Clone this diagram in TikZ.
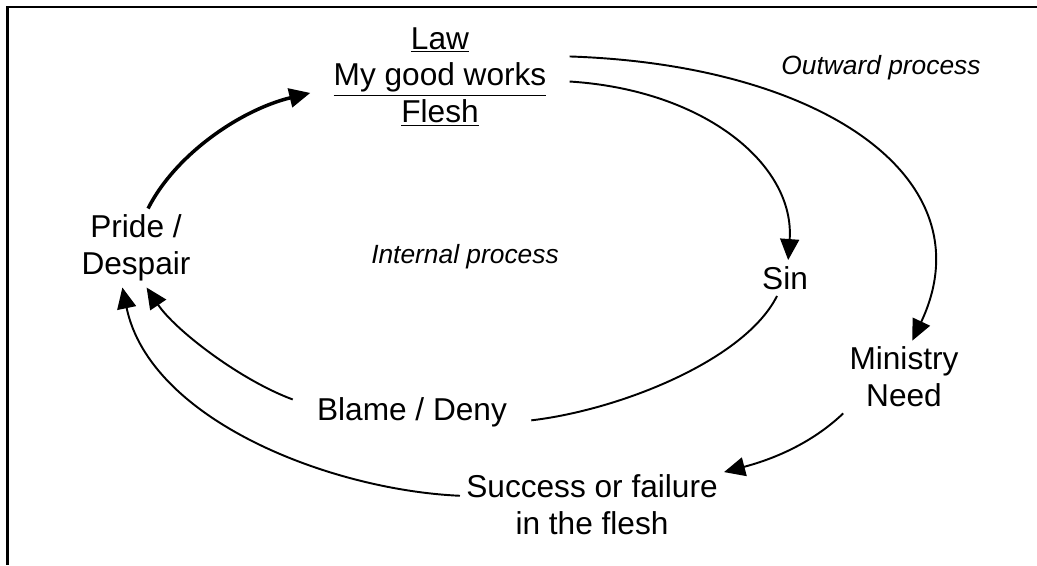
\documentclass[tikz,border=0pt]{standalone}
\usepackage{fontspec}
\setmainfont{Liberation Sans}
\usetikzlibrary{arrows.meta,positioning}

\begin{document}
\begin{tikzpicture}[x=0.02cm, y=-0.02cm]
      \tikzstyle{stage} = [inner xsep=0.12cm, inner ysep=0.12cm, align=center, font=\fontsize{18}{21}\selectfont]
      \tikzstyle{remark} = [font=\fontsize{15}{18}\selectfont\itshape]
      \tikzstyle{flow} = [line width=1.1pt, -{Triangle[length=0.42cm, width=0.38cm]}]
      \tikzstyle{frame} = [line width=1.3pt]

      \useasboundingbox (0,0) rectangle (1037,565);
      \draw[frame] (1037,7) -- (7.5,7) -- (7.5,565);

      \node[stage, inner xsep=0.46cm] (works) at (440,77) {\underline{Law}\\ \underline{My good works}\\ \underline{Flesh}};
      \node[stage] (pride) at (136,248) {Pride /\\ Despair};
      \node[stage] (sin) at (785,278) {Sin};
      \node[stage] (ministry) at (904,377) {Ministry\\ Need};
      \node[stage, inner xsep=0.48cm] (blame) at (412,412) {Blame / Deny};
      \node[stage] (success) at (592,505) {Success or failure\\ in the flesh};
      \node[remark] (internal) at (465,257) {Internal process};
      \node[remark] (outward) at (881,68) {Outward process};

      \draw[flow, line width=2pt] (pride.73) .. controls (175,155) and (240,110) .. (works.187);
      \draw[flow] (works.9) .. controls (825,65) and (988,180) .. (ministry.77);
      \draw[flow] (works.-2) .. controls (705,90) and (795,165) .. (sin.80);
      \draw[line width=1.1pt] (sin.-114) .. controls (745,360) and (620,410) .. (blame.-4);
      \draw[flow] (blame.174) .. controls (240,380) and (175,330) .. (pride.-75);
      \draw[flow] (success.176) .. controls (330,490) and (150,420) .. (pride.-109);
      \draw[flow] (ministry.south west) .. controls (810,445) and (770,460) .. (success.14);
    \end{tikzpicture}
\end{document}
